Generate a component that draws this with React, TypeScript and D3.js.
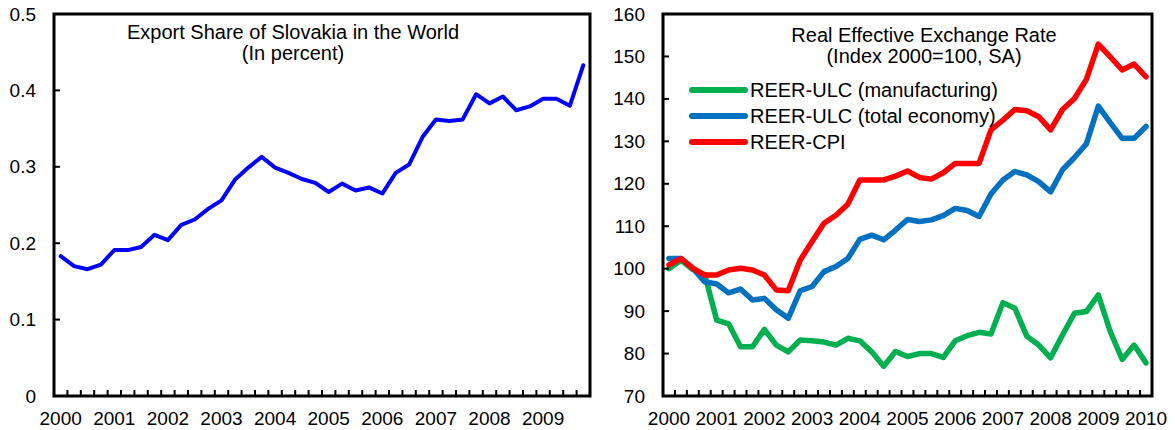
import React from "react";
import * as d3 from "d3";

// export share of Slovakia, quarterly 2000Q1-2009Q4 (percent)
const exportShare = [
  0.183, 0.17, 0.166, 0.172, 0.191, 0.191, 0.195, 0.211, 0.204, 0.224,
  0.231, 0.245, 0.256, 0.283, 0.299, 0.313, 0.299, 0.292, 0.284, 0.279,
  0.267, 0.278, 0.269, 0.273, 0.265, 0.292, 0.303, 0.339, 0.362, 0.36,
  0.362, 0.395, 0.383, 0.392, 0.374, 0.379, 0.389, 0.389, 0.38, 0.433,
];

// REER indices, quarterly 2000Q1-2010Q1
const reerUlcManuf = [
  100.0, 102.0, 99.8, 98.6, 87.9, 87.0, 81.6, 81.6, 85.7, 82.0, 80.4, 83.2,
  83.0, 82.7, 82.0, 83.6, 83.0, 80.4, 77.0, 80.5, 79.3, 80.0, 80.0, 79.1,
  83.0, 84.2, 85.0, 84.6, 92.0, 90.7, 84.1, 82.0, 79.0, 84.4, 89.5, 89.9,
  93.8, 85.2, 78.6, 82.0, 77.8,
];
const reerUlcTotal = [
  102.4, 102.4, 100.1, 96.9, 96.4, 94.3, 95.2, 92.6, 93.0, 90.3, 88.3, 94.8,
  95.8, 99.3, 100.5, 102.4, 106.9, 107.9, 106.8, 109.1, 111.6, 111.1, 111.5,
  112.5, 114.2, 113.7, 112.3, 117.6, 120.9, 122.9, 122.1, 120.5, 118.1, 123.3,
  126.2, 129.4, 138.3, 134.4, 130.7, 130.7, 133.5,
];
const reerCpi = [
  100.9, 102.4, 100.1, 98.5, 98.5, 99.7, 100.1, 99.7, 98.5, 95.0, 94.8, 102.0,
  106.4, 110.7, 112.6, 115.2, 120.9, 120.9, 120.9, 121.8, 123.0, 121.5, 121.1,
  122.6, 124.8, 124.8, 124.8, 132.7, 135.0, 137.5, 137.2, 135.8, 132.7, 137.5,
  140.1, 144.6, 152.9, 149.9, 146.8, 148.2, 145.2,
];

const leftYears = ["2000", "2001", "2002", "2003", "2004", "2005", "2006", "2007", "2008", "2009"];
const rightYears = [...leftYears, "2010"];
const leftTicks = [0, 0.1, 0.2, 0.3, 0.4, 0.5];
const rightTicks = [70, 80, 90, 100, 110, 120, 130, 140, 150, 160];
const leftTickFmt = (v: number) => (v === 0 ? "0" : d3.format(".1f")(v));

const seriesNames = ["REER-ULC (manufacturing)", "REER-ULC (total economy)", "REER-CPI"];
const seriesColors = ["#00B050", "#0070C0", "#FF0000"];

const FONT = "'Liberation Sans', Arial, sans-serif";

type PanelProps = {
  left: number;
  right: number;
  top: number;
  bottom: number;
  n: number;
  domain: [number, number];
  yTicks: number[];
  fmt: (v: number) => string;
  years: string[];
  series: number[][];
  colors: string[];
  lineWidth: number;
  title: string[];
  titleX: number;
  titleY: number;
};

const Panel = (p: PanelProps) => {
  const x = d3
    .scaleBand<number>()
    .domain(d3.range(p.n))
    .range([p.left, p.right])
    .padding(0);
  const cx = (i: number) => (x(i) as number) + x.bandwidth() / 2;
  const y = d3.scaleLinear().domain(p.domain).range([p.bottom, p.top]);
  const line = d3
    .line<number>()
    .x((_, i) => cx(i))
    .y((d) => y(d));

  return (
    <g>
      {/* series */}
      {p.series.map((s, k) => (
        <path
          key={k}
          d={line(s) as string}
          fill="none"
          stroke={p.colors[k]}
          strokeWidth={p.lineWidth}
          strokeLinejoin="round"
          strokeLinecap="round"
        />
      ))}
      {/* frame */}
      <rect
        x={p.left}
        y={p.top}
        width={p.right - p.left}
        height={p.bottom - p.top}
        fill="none"
        stroke="#000"
        strokeWidth={3}
      />
      {/* y ticks */}
      {p.yTicks.map((t) => (
        <g key={t}>
          {t !== p.domain[0] && t !== p.domain[1] && (
            <line x1={p.left} x2={p.left + 6} y1={y(t)} y2={y(t)} stroke="#000" strokeWidth={2} />
          )}
          <text
            x={p.left - 18}
            y={y(t)}
            textAnchor="end"
            dominantBaseline="central"
            fontSize={19}
            fontFamily={FONT}
          >
            {p.fmt(t)}
          </text>
        </g>
      ))}
      {/* x ticks at quarter boundaries */}
      {d3.range(1, p.n).map((i) => (
        <line
          key={i}
          x1={x(i) as number}
          x2={x(i) as number}
          y1={p.bottom}
          y2={p.bottom - 6}
          stroke="#000"
          strokeWidth={2}
        />
      ))}
      {p.years.map((yr, j) => (
        <text key={yr} x={cx(j * 4)} y={425} textAnchor="middle" fontSize={19} fontFamily={FONT}>
          {yr}
        </text>
      ))}
      {p.title.map((t, j) => (
        <text
          key={j}
          x={p.titleX}
          y={p.titleY + j * 21}
          textAnchor="middle"
          fontSize={20}
          fontFamily={FONT}
        >
          {t}
        </text>
      ))}
    </g>
  );
};

export default function App() {
  return (
    <svg
      width={1175}
      height={430}
      style={{ position: "absolute", left: 0, top: 0, background: "#fff" }}
    >
      <Panel
        left={54}
        right={590}
        top={14}
        bottom={396}
        n={exportShare.length}
        domain={[0, 0.5]}
        yTicks={leftTicks}
        fmt={leftTickFmt}
        years={leftYears}
        series={[exportShare]}
        colors={["#0000FF"]}
        lineWidth={4}
        title={["Export Share of Slovakia in the World", "(In percent)"]}
        titleX={293}
        titleY={39}
      />
      <Panel
        left={663}
        right={1152}
        top={14}
        bottom={396}
        n={reerCpi.length}
        domain={[70, 160]}
        yTicks={rightTicks}
        fmt={(v) => String(v)}
        years={rightYears}
        series={[reerUlcManuf, reerUlcTotal, reerCpi]}
        colors={seriesColors}
        lineWidth={5.5}
        title={["Real Effective Exchange Rate", "(Index 2000=100, SA)"]}
        titleX={924}
        titleY={42}
      />
      {/* legend */}
      {seriesNames.map((name, k) => (
        <g key={name}>
          <line
            x1={692}
            x2={745}
            y1={90 + k * 26}
            y2={90 + k * 26}
            stroke={seriesColors[k]}
            strokeWidth={6}
            strokeLinecap="round"
          />
          <text x={750} y={97 + k * 26} fontSize={20} fontFamily={FONT}>
            {name}
          </text>
        </g>
      ))}
    </svg>
  );
}
